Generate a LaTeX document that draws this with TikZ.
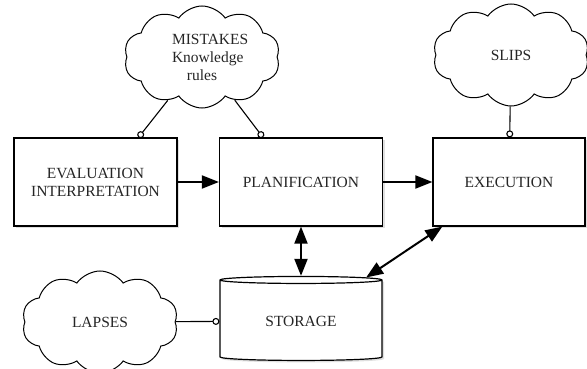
\documentclass[tikz,border=0pt]{standalone}
\usepackage{fontspec}
\setmainfont{Liberation Serif}
\usetikzlibrary{shapes.symbols,shapes.geometric,arrows.meta,shadows,calc}

\newcommand{\cloudtext}[1]{\parbox[c][30pt][c]{60pt}{\centering #1}}

\begin{document}
\begin{tikzpicture}[x=1pt,y=-1pt,>={Triangle[length=17pt,width=13pt]},
    every node/.style={font=\fontsize{15.5}{18}\selectfont,text=black!85},
    box node/.style={rectangle,draw,line width=1.2pt,fill=white,align=center,minimum width=163pt,minimum height=88pt,drop shadow={fill=black!25,shadow xshift=2pt,shadow yshift=-2pt}},
    store node/.style={cylinder,draw,line width=1.2pt,fill=white,shape border rotate=90,shape aspect=0.09,minimum width=162pt,minimum height=84pt,drop shadow={fill=black!25,shadow xshift=2pt,shadow yshift=-2pt}},
    cloud node/.style={cloud,draw,line width=1pt,fill=white,cloud puffs=10,cloud puff arc=110,inner sep=0pt,cloud ignores aspect=false,aspect=1.35,minimum width=156pt,minimum height=102pt},
    big arrow/.style={line width=2pt},
    link/.style={-{Circle[open,length=7pt]},line width=1.1pt}]

    \useasboundingbox (0,0) rectangle (587,369);

    \node[box node] (eval) at (95.5,182) {EVALUATION\\INTERPRETATION};
    \node[box node] (plan) at (301,182) {PLANIFICATION};
    \node[box node] (exec) at (509,182) [minimum width=152pt] {EXECUTION};
    \node[store node] (storage) at (301,321) {STORAGE};

    \node[cloud node] (mistakes) at (202,57) {\cloudtext{MISTAKES\\Knowledge\\rules}};
    \node[cloud node] (slips) at (511,55) {\cloudtext{SLIPS}};
    \node[cloud node] (lapses) at (100,322) {\cloudtext{LAPSES}};

    % contact points on the boxes
    \coordinate (evaltop) at ($(eval.north)+(43,0)$);
    \coordinate (plantop) at ($(plan.north)+(-38,0)$);

    \draw[big arrow,->] (eval) to (plan);
    \draw[big arrow,->] (plan) to (exec);
    \draw[big arrow,<->] (plan) to (storage);
    \draw[big arrow,<->] (storage) to (exec);

    \draw[link] (mistakes) to (evaltop);
    \draw[link] (mistakes) to (plantop);
    \draw[link] (slips) to (exec);
    \draw[link] (lapses) to (storage);

\end{tikzpicture}
\end{document}
